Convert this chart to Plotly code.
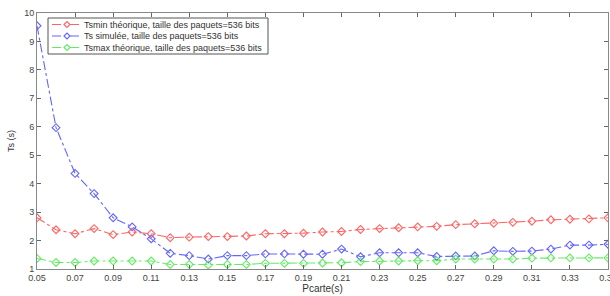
import plotly.graph_objects as go

pcarte = [round(0.05 + 0.01 * i, 2) for i in range(31)]
tsmin = [2.80, 2.38, 2.24, 2.42, 2.21, 2.30, 2.24, 2.10, 2.12, 2.14, 2.14, 2.16, 2.24, 2.24,
         2.26, 2.30, 2.32, 2.39, 2.42, 2.45, 2.48, 2.50, 2.56, 2.59, 2.61, 2.64, 2.68, 2.73, 2.75, 2.76, 2.80]
ts_sim = [9.55, 5.97, 4.36, 3.65, 2.80, 2.48, 2.06, 1.55, 1.47, 1.35, 1.47, 1.47, 1.53, 1.53,
          1.52, 1.52, 1.70, 1.43, 1.57, 1.57, 1.57, 1.44, 1.46, 1.46, 1.64, 1.62, 1.63, 1.70, 1.84, 1.84, 1.87]
tsmax = [1.37, 1.23, 1.23, 1.28, 1.28, 1.28, 1.28, 1.16, 1.16, 1.14, 1.16, 1.16, 1.20, 1.20,
         1.20, 1.21, 1.22, 1.26, 1.28, 1.28, 1.29, 1.29, 1.35, 1.35, 1.35, 1.35, 1.38, 1.39, 1.39, 1.39, 1.39]
names = ["Tsmin théorique, taille des paquets=536 bits",
         "Ts simulée, taille des paquets=536 bits",
         "Tsmax théorique, taille des paquets=536 bits"]
colors = ["rgb(255,100,100)", "rgb(100,100,255)", "rgb(100,235,100)"]
xtickvals = [round(0.05 + 0.02 * i, 2) for i in range(16)]
xticktext = ["%.2f" % v for v in xtickvals]
ytickvals = list(range(1, 11))

W, H = 610, 296
ML, MR, MT, MB = 37, 2, 13, 27
PW, PH = W - ML - MR, H - MT - MB


def px(xp):
    return (xp - ML) / PW


def py(yp):
    return (H - MB - yp) / PH


fig = go.Figure()
for ys, nm, c in zip([tsmin, ts_sim, tsmax], names, colors):
    fig.add_trace(go.Scatter(
        x=pcarte, y=ys, name=nm, mode="lines+markers", showlegend=False,
        line=dict(color=c, width=1.1, dash="dashdot"),
        marker=dict(symbol="diamond-open", size=6, color=c, line=dict(width=1.1, color=c)),
    ))

# manual compact legend
shapes = [dict(type="rect", xref="paper", yref="paper", x0=px(48), x1=px(268), y0=py(54), y1=py(18),
               line=dict(color="#555555", width=1), fillcolor="white", layer="above")]
annotations = []
for i, (nm, c) in enumerate(zip(names, colors)):
    yy = 24.5 + 11.5 * i
    shapes.append(dict(type="line", xref="paper", yref="paper", x0=px(52), x1=px(81), y0=py(yy), y1=py(yy),
                       line=dict(color=c, width=1.1, dash="dashdot"), layer="above"))
    cx, cy = 67, yy
    d = 3
    shapes.append(dict(type="path", xref="paper", yref="paper", layer="above",
                       path=f"M {px(cx-d)},{py(cy)} L {px(cx)},{py(cy-d)} L {px(cx+d)},{py(cy)} L {px(cx)},{py(cy+d)} Z",
                       fillcolor="white", line=dict(color=c, width=1.1)))
    annotations.append(dict(xref="paper", yref="paper", x=px(83), y=py(yy), xanchor="left", yanchor="middle",
                            text=nm, showarrow=False, borderpad=0,
                            font=dict(size=9, color="#333333", family="Liberation Sans")))

axis_common = dict(showline=True, linecolor="#888888", linewidth=1, mirror="ticks", automargin=False,
                   ticks="inside", ticklen=4, tickcolor="#666666", showgrid=False, zeroline=False,
                   tickfont=dict(size=9, color="#444444", family="Liberation Sans"))
fig.update_xaxes(range=[0.05, 0.35], tickvals=xtickvals, ticktext=xticktext,
                 ticklabeloverflow="allow",
                 title=dict(text="Pcarte(s)", font=dict(size=10, color="#333333", family="Liberation Sans"),
                            standoff=0),
                 **axis_common)
fig.update_yaxes(range=[1, 10], tickvals=ytickvals,
                 title=dict(text="Ts (s)", font=dict(size=9, color="#333333", family="Liberation Sans"),
                            standoff=8),
                 **axis_common)
fig.update_layout(
    width=W, height=H,
    margin=dict(l=ML, r=MR, t=MT, b=MB),
    paper_bgcolor="white", plot_bgcolor="white",
    font=dict(family="Liberation Sans", size=9, color="#333333"),
    shapes=shapes, annotations=annotations,
    showlegend=False,
)
fig.write_html("out.html", post_script="document.body.style.margin='0';",
               config={"displayModeBar": False})
